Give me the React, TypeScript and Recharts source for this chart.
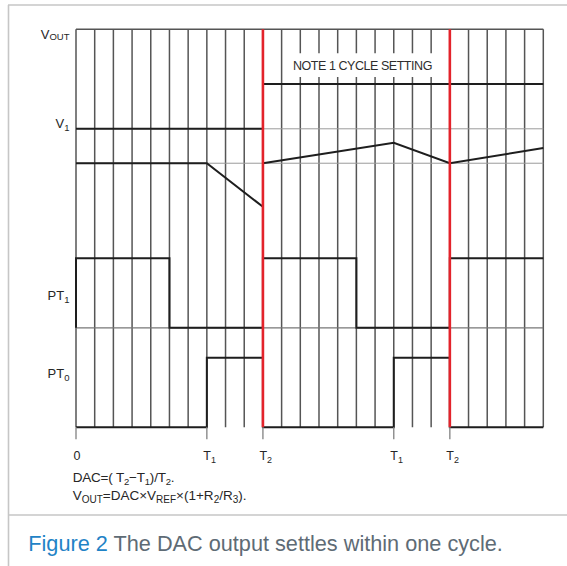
import React from "react";
import { LineChart, Line, XAxis, YAxis, CartesianGrid, ReferenceArea } from "recharts";

// time axis: one grid column per unit, cycle boundary at T2
const GRID_T = [0, 1, 2, 3, 4, 5, 6, 7, 8, 9, 10, 11, 12, 13, 14, 15, 16, 17, 18, 19, 20, 21, 22, 23, 24, 25];
const GRID_V_LIGHT = [15, 13.27];
const GRID_V_MID = [5];
const GRID_V_DARK = [20];

const X_TICKS = [0, 7, 10, 17, 20];
const X_LABELS: [string, string][] = [["0", ""], ["T", "1"], ["T", "2"], ["T", "1"], ["T", "2"]];

const Y_TICKS = [19.75, 15.25, 6.6, 2.7];
const Y_LABELS: [string, string, number][] = [["V", "OUT", 1.5], ["V", "1", 3], ["PT", "1", 3], ["PT", "0", 3]];

const CYCLE_MARKS = [10, 20];

// signal levels
const V1_LEVEL = [{ t: 0, v: 15 }, { t: 10, v: 15 }];
const SETTING_LEVEL = [{ t: 10, v: 17.25 }, { t: 25, v: 17.25 }];
const VOUT_FIRST = [{ t: 0, v: 13.27 }, { t: 7, v: 13.27 }, { t: 10, v: 11.08 }];
const VOUT_NEXT = [{ t: 10, v: 13.27 }, { t: 17, v: 14.3 }, { t: 20, v: 13.27 }, { t: 25, v: 14.03 }];
const PT1 = [
  { t: 0, v: 5 }, { t: 0, v: 8.5 }, { t: 5, v: 8.5 }, { t: 5, v: 5 }, { t: 10, v: 5 }, { t: 10, v: 8.5 },
  { t: 15, v: 8.5 }, { t: 15, v: 5 }, { t: 20, v: 5 }, { t: 20, v: 8.5 }, { t: 25, v: 8.5 },
];
const PT0 = [
  { t: 0, v: 0 }, { t: 7, v: 0 }, { t: 7, v: 3.5 }, { t: 10, v: 3.5 }, { t: 10, v: 0 },
  { t: 17, v: 0 }, { t: 17, v: 3.5 }, { t: 20, v: 3.5 }, { t: 20, v: 0 }, { t: 25, v: 0 },
];

const NOTE_TEXT = "NOTE 1 CYCLE SETTING";
const NOTE_BOX = { t1: 11.5, t2: 19.15, v1: 17.6, v2: 18.8 };

const FONT = "'Liberation Sans', Arial, Helvetica, sans-serif";
const BLACK = "#1e1e1e";
const INK = "#262626";
const RED = "#e3232b";

type Part = [string, boolean];

function rich(parts: Part[], size: number, subSize: number, shift: number) {
  let prev = false;
  return parts.map(([s, sub], i) => {
    const dy = sub === prev ? 0 : sub ? shift : -shift;
    prev = sub;
    return (
      <tspan key={i} dy={dy} fontSize={sub ? subSize : size}>
        {s}
      </tspan>
    );
  });
}

function XTick(props: any) {
  const { x, y, index } = props;
  const [main, sub] = X_LABELS[index] || ["", ""];
  if (!sub) {
    return (
      <text x={x + 1} y={y + 19} textAnchor="middle" fontSize={12.5} fill={INK} fontFamily={FONT}>
        {main}
      </text>
    );
  }
  return (
    <text x={x - 3.5} y={y + 19} fontSize={12.5} fill={INK} fontFamily={FONT}>
      {rich([[main, false], [sub, true]], 12.5, 9, 3)}
    </text>
  );
}

function YTick(props: any) {
  const { x, y, index } = props;
  const [main, sub, shift] = Y_LABELS[index] || ["", "", 0];
  return (
    <text x={x + 1.5} y={y + 4.5} textAnchor="end" fontSize={13} fill={INK} fontFamily={FONT}>
      {rich([[main, false], [sub, true]], 13, 9.5, shift)}
    </text>
  );
}

const DAC_LINE: Part[] = [["DAC=( T", false], ["2", true], ["\u2212T", false], ["1", true], [")/T", false], ["2", true], [".", false]];
const VOUT_LINE: Part[] = [
  ["V", false], ["OUT", true], ["=DAC\u00d7V", false], ["REF", true], ["\u00d7(1+R", false],
  ["2", true], ["/R", false], ["3", true], [").", false],
];

export default function App() {
  return (
    <div style={{ position: "absolute", left: 0, top: 0, width: 567, height: 566, background: "#fff", fontFamily: FONT }}>
      <div style={{ position: "absolute", left: 0, top: 0 }}>
        <LineChart width={567} height={566} margin={{ top: 29.3, right: 23.7, bottom: 104.7, left: 16 }}>
          <CartesianGrid horizontal={false} verticalValues={GRID_T} stroke="#555" strokeWidth={1.5} />
          <CartesianGrid vertical={false} horizontalValues={GRID_V_LIGHT} stroke="#9a9a9a" strokeWidth={1} />
          <CartesianGrid vertical={false} horizontalValues={GRID_V_MID} stroke="#777" strokeWidth={1.2} />
          <CartesianGrid vertical={false} horizontalValues={GRID_V_DARK} stroke="#555" strokeWidth={1.5} />
          <XAxis
            type="number"
            dataKey="t"
            domain={[0, 25]}
            ticks={X_TICKS}
            interval={0}
            height={34}
            axisLine={false}
            tickSize={12}
            tickLine={{ stroke: "#8a8a8a", strokeWidth: 1.4 }}
            tick={<XTick />}
          />
          <YAxis
            type="number"
            dataKey="v"
            domain={[0, 20]}
            ticks={Y_TICKS}
            interval={0}
            width={60}
            axisLine={false}
            tickLine={false}
            tick={<YTick />}
          />
          <ReferenceArea
            x1={NOTE_BOX.t1}
            x2={NOTE_BOX.t2}
            y1={NOTE_BOX.v1}
            y2={NOTE_BOX.v2}
            fill="#ffffff"
            fillOpacity={1}
            stroke="none"
            label={{ value: NOTE_TEXT, position: "center", fill: "#2e2e2e", fontSize: 12.5, fontFamily: FONT, letterSpacing: -0.45 }}
          />
          <Line data={V1_LEVEL} dataKey="v" stroke={BLACK} strokeWidth={2} dot={false} activeDot={false} isAnimationActive={false} />
          <Line data={SETTING_LEVEL} dataKey="v" stroke={BLACK} strokeWidth={2} dot={false} activeDot={false} isAnimationActive={false} />
          <Line data={VOUT_FIRST} dataKey="v" stroke={BLACK} strokeWidth={2} dot={false} activeDot={false} isAnimationActive={false} />
          <Line data={VOUT_NEXT} dataKey="v" stroke={BLACK} strokeWidth={2} dot={false} activeDot={false} isAnimationActive={false} />
          <Line data={PT1} dataKey="v" stroke={BLACK} strokeWidth={2} dot={false} activeDot={false} isAnimationActive={false} />
          <Line data={PT0} dataKey="v" stroke={BLACK} strokeWidth={2} dot={false} activeDot={false} isAnimationActive={false} />
          {CYCLE_MARKS.map((t) => (
            <Line
              key={t}
              data={[{ t, v: 0 }, { t, v: 20 }]}
              dataKey="v"
              stroke={RED}
              strokeWidth={2.6}
              dot={false}
              activeDot={false}
              isAnimationActive={false}
            />
          ))}
        </LineChart>
      </div>
      <svg width={567} height={566} style={{ position: "absolute", left: 0, top: 0, pointerEvents: "none" }}>
        <line x1={8.5} y1={5} x2={8.5} y2={566} stroke="#c6c6c6" strokeWidth={1.6} />
        <line x1={8} y1={5} x2={567} y2={5} stroke="#c6c6c6" strokeWidth={1.6} />
        <line x1={8} y1={515} x2={567} y2={515} stroke="#c6c6c6" strokeWidth={1.6} />
        <text x={72.7} y={481.7} fontSize={13.5} fill={INK} fontFamily={FONT} letterSpacing={-0.2}>
          {rich(DAC_LINE, 13.5, 9.5, 3)}
        </text>
        <text x={72.7} y={500} fontSize={13.5} fill={INK} fontFamily={FONT}>
          {rich(VOUT_LINE, 13.5, 10, 2.5)}
        </text>
        <text x={28.3} y={550.7} fontSize={21.7} fontFamily={FONT}>
          <tspan fill="#1f83c6">Figure 2</tspan>
          <tspan fill="#5e6b75"> The DAC output settles within one cycle.</tspan>
        </text>
      </svg>
    </div>
  );
}
